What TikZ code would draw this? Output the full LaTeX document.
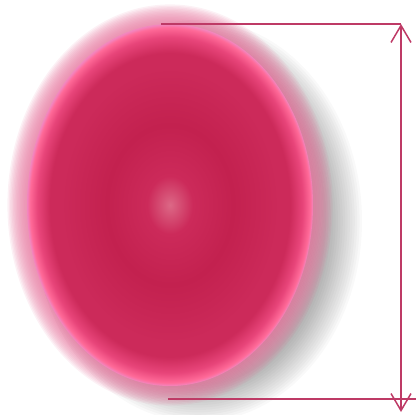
\documentclass[tikz,border=0pt]{standalone}
\usepackage{tikz}
\usetikzlibrary{
    arrows.meta,
    calc,
    positioning
}
\definecolor{celldark}{HTML}{C3214F}
\definecolor{cellmid}{HTML}{CC2A5A}
\definecolor{celllight}{HTML}{DC6886}
\definecolor{cellwarm}{HTML}{E8457A}
\definecolor{cellrim}{HTML}{FF6A98}
\definecolor{celledge}{HTML}{F287C0}
\definecolor{cellglow}{HTML}{E6789F}
\definecolor{dimcol}{HTML}{BE3A66}
\pgfdeclareradialshading{cellshade}{\pgfpoint{0bp}{0bp}}{%
    color(0bp)=(celllight); color(4bp)=(cellmid); color(11bp)=(celldark);
    color(19bp)=(cellmid); color(21bp)=(cellmid); color(23.2bp)=(cellwarm);
    color(24.5bp)=(cellrim); color(25bp)=(celledge); color(50bp)=(celledge)}
\tikzset{
    dimline/.style={line width=1.5pt, dimcol}
}
\begin{document}
\begin{tikzpicture}[x=1pt, y=-1pt, >={Straight Barb[length=17pt, width=20pt]}]
    \useasboundingbox (0,0) rectangle (416,415);
    \coordinate (cellc) at (170,205);
    % soft grey shadow, lower right
    \foreach \k in {0,...,15}
        \fill[black, opacity=0.025] ($(cellc)+(28,16)$) ellipse ({128+2.4*\k} and {165+2.4*\k});
    % pink glow round the cell
    \foreach \k in {1,...,14}
        \fill[cellglow, opacity=0.1] (cellc) ellipse ({143+1.4*\k} and {181+1.4*\k});
    % the cell itself
    \shade[shading=cellshade] (cellc) ellipse (143 and 181);
    % height marker
    \coordinate (topL) at (161,24);
    \coordinate (topR) at (401,24);
    \coordinate (botL) at (168,399);
    \coordinate (botR) at (416,399);
    \coordinate (botTip) at (401,412);
    \draw[dimline] (topL) -- (topR);
    \draw[dimline] (botL) -- (botR);
    \draw[dimline, <->] (botTip) -- (topR);
\end{tikzpicture}
\end{document}
